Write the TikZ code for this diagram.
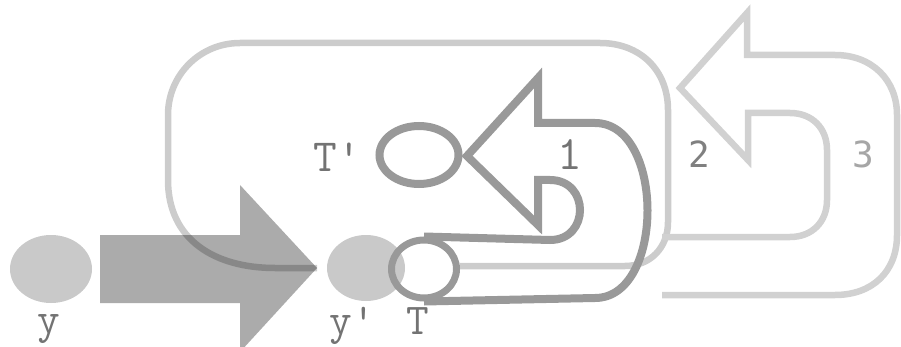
\documentclass[tikz,border=0pt]{standalone}
\usepackage{fontspec}
\usetikzlibrary{shapes.geometric}
\newfontfamily\digfont{DejaVu Sans Mono}
\begin{document}
\begin{tikzpicture}[x=1pt,y=-1pt,
  fillball/.style={fill=black!21,draw=none},
  bigarrow/.style={fill=black!33,draw=none},
  loopone/.style={draw=black!40,line width=8pt,line join=miter},
  looptwo/.style={draw=black,draw opacity=0.2,line width=6.5pt},
  loopthree/.style={draw=black!18,line width=6.5pt,line join=miter},
  ring/.style={draw=black!40,line width=7pt},
  lbl/.style={font=\ttfamily\fontsize{44}{44}\selectfont,text=black!55,inner sep=0pt,anchor=base},
  dig/.style={font=\digfont\fontsize{36}{36}\selectfont,inner sep=0pt,anchor=base}]
\path[use as bounding box] (0,0) rectangle (901,347);
\clip (0,0) rectangle (901,347);
% big arrow
\fill[bigarrow] (100,235) -- (240,235) -- (240,185) -- (317,268) -- (240,352) -- (240,303) -- (100,303) -- cycle;
\coordinate (tip) at (317,268);
% filled balls
\node[fillball,ellipse,minimum width=82pt,minimum height=68pt,inner sep=0pt] (y) at (51,269) {};
% loop 2: big rounded rectangle
\coordinate (rs) at (460,266);
\draw[looptwo] (rs) -- (625,266) .. controls (650,266) and (668,248) .. (668,222)
  -- (668,110) .. controls (668,70) and (640,43) .. (600,43)
  -- (240,43) .. controls (200,43) and (168,75) .. (168,115)
  -- (168,180) .. controls (168,240) and (215,268) .. (275,268) -- (tip);
\node[fillball,ellipse,minimum width=78pt,minimum height=66pt,inner sep=0pt] (yp) at (366,268) {};
% loop 3 arrow
\coordinate (a3) at (662,237);
\coordinate (b3) at (662,295);
\draw[loopthree] (a3) -- (790,237) .. controls (812,237) and (827,222) .. (827,200)
  -- (827,150) .. controls (827,128) and (812,113) .. (790,113)
  -- (748,113) -- (748,160) -- (680,88) -- (747,13) -- (747,55)
  -- (835,55) .. controls (872,55) and (897,80) .. (897,115)
  -- (897,235) .. controls (897,272) and (872,295) .. (835,295) -- (b3);
% T circle and loop 1
\node[ellipse,ring,line width=7pt,minimum width=65pt,minimum height=58pt,inner sep=0pt] (T) at (424,269) {};
\draw[loopone] (T.north) -- (550,240) .. controls (590,240) and (590,180) .. (550,180)
  -- (538,180) -- (538,225) -- (467,156) -- (538,78) -- (538,123)
  -- (595,123) .. controls (665,123) and (665,298) .. (595,298) -- (T.south);
% T' circle
\node[ellipse,ring,line width=8pt,minimum width=79pt,minimum height=58pt,inner sep=0pt] (Tp) at (419,155) {};
% labels
\node[lbl,font=\ttfamily\fontsize{46}{46}\selectfont] (lTp) at (337,172) {T'};
\node[lbl] (ly) at (49,333) {y};
\node[lbl] (lyp) at (352,334) {y'};
\node[lbl] (lT) at (418,334) {T};
\node[lbl,font=\ttfamily\fontsize{48}{48}\selectfont] (l1) at (570,170) {1};
\node[dig,text=black!50] (l2) at (699,168) {2};
\node[dig,text=black!35] (l3) at (863,168) {3};
\end{tikzpicture}
\end{document}
